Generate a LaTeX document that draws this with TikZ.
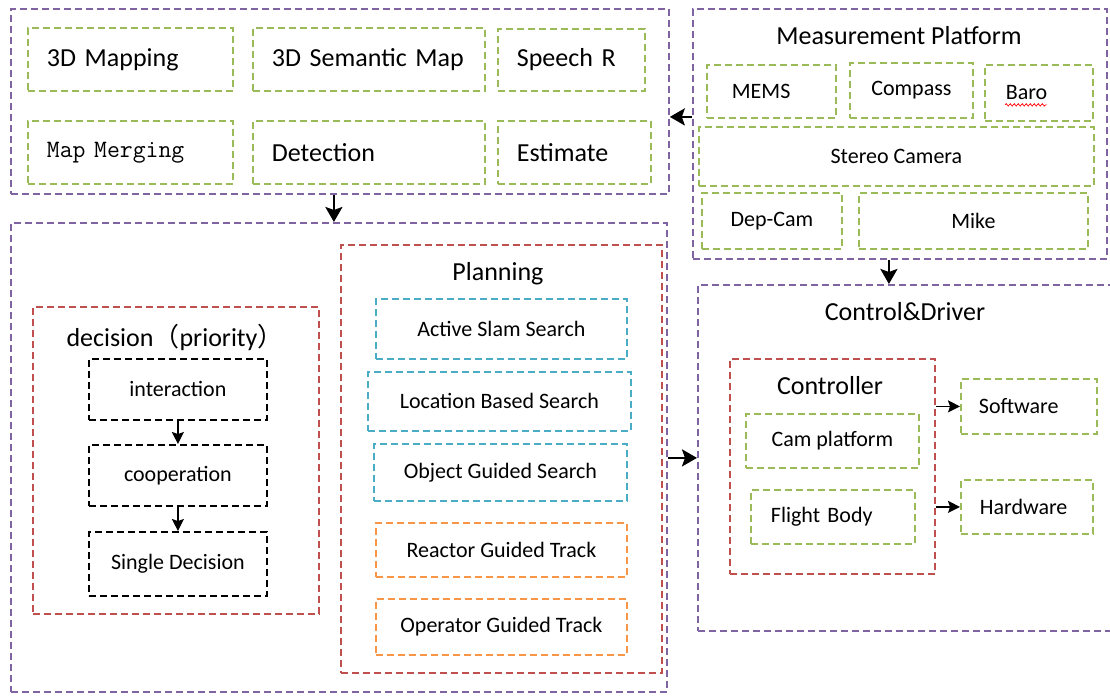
\documentclass[tikz,border=0pt]{standalone}
\usepackage{fontspec}
\setmainfont{Carlito}
\newfontfamily\cjk{Noto Sans CJK SC}
\usetikzlibrary{arrows.meta,positioning,decorations.pathmorphing}
\definecolor{grpviolet}{RGB}{128,100,162}
\definecolor{grpred}{RGB}{192,80,77}
\definecolor{grpgreen}{RGB}{155,187,89}
\definecolor{grpblue}{RGB}{75,172,198}
\definecolor{grporange}{RGB}{247,150,70}
\newcommand{\titlesize}{\fontsize{26}{30}\selectfont}
\newcommand{\itemsize}{\fontsize{22}{26}\selectfont}
\tikzstyle{line} = [draw, line width=2.6pt, -{Stealth[length=15pt,width=17pt,inset=3pt]}]
\tikzstyle{thinline} = [draw, line width=1.4pt, -{Stealth[length=12pt,width=12pt,inset=2pt]}]

\begin{document}
\begin{tikzpicture}[x=1pt,y=-1pt]
\tikzset{frame/.style={draw, dash pattern=on 7pt off 4pt, line width=1.8pt, inner sep=0pt, anchor=north west}}
\tikzset{group/.style={frame, draw=grpviolet}}
\tikzset{stage/.style={frame, draw=grpred}}
\tikzset{unit/.style={frame, draw=grpgreen, font=\itemsize}}
\tikzset{search/.style={frame, draw=grpblue, font=\itemsize}}
\tikzset{track/.style={frame, draw=grporange, font=\itemsize}}
\tikzset{choice/.style={frame, draw=black, font=\itemsize}}
\useasboundingbox (0,0) rectangle (1110,696);

% perception
\node [group, minimum width=658pt, minimum height=185pt] (p1) at (10,8) {};
\node [unit, font=\titlesize, minimum width=205pt, minimum height=63pt, text width=167pt, inner xsep=19pt, align=left] (map) at (27,27) {3D Mapping};
\node [unit, font=\titlesize, minimum width=232pt, minimum height=63pt, text width=194pt, inner xsep=19pt, align=left] (sem) at (252,27) {3D Semantic Map};
\node [unit, font=\titlesize, minimum width=147pt, minimum height=62pt, text width=109pt, inner xsep=19pt, align=left] (speech) at (497,28) {Speech R};
\node [unit, font=\titlesize, minimum width=205pt, minimum height=63pt, text width=167pt, inner xsep=19pt, align=left] (merge) at (27,120) {\fontsize{25}{30}\ttfamily Map Merging};
\node [unit, font=\titlesize, minimum width=232pt, minimum height=63pt, text width=194pt, inner xsep=19pt, align=left] (detect) at (252,120) {Detection};
\node [unit, font=\titlesize, minimum width=153pt, minimum height=63pt, text width=115pt, inner xsep=19pt, align=left] (estim) at (497,120) {Estimate};

% decision and planning
\node [group, minimum width=656pt, minimum height=469pt] (p2) at (10,222) {};
\node [stage, minimum width=286pt, minimum height=307pt] (dec) at (32,306) {};
\node [font=\titlesize] (tdec) at (175,337) {decision{\cjk （}priority{\cjk ）}};
\node [choice, minimum width=178pt, minimum height=61pt] (inter) at (88,358) {interaction};
\node [choice, minimum width=178pt, minimum height=61pt] (coop) at (88,444) {cooperation};
\node [choice, minimum width=178pt, minimum height=64pt] (single) at (88,531) {Single Decision};
\path [thinline] (inter.south) -- (coop.north);
\path [thinline] (coop.south) -- (single.north);

\node [stage, minimum width=321pt, minimum height=428pt] (plan) at (340,244) {};
\node [font=\titlesize] (tplan) at (498,274) {Planning};
\node [search, minimum width=251pt, minimum height=60pt] (act) at (375,298) {Active Slam Search};
\node [search, minimum width=263pt, minimum height=59pt] (loc) at (367,371) {Location Based Search};
\node [search, minimum width=253pt, minimum height=57pt] (obj) at (373,443) {Object Guided Search};
\node [track, minimum width=251pt, minimum height=54pt] (react) at (375,522) {Reactor Guided Track};
\node [track, minimum width=251pt, minimum height=56pt] (oper) at (375,598) {Operator Guided Track};

% sensors
\node [group, minimum width=414pt, minimum height=250pt] (p3) at (692,8) {};
\node [font=\titlesize] (tmeas) at (899,36) {Measurement Platform};
\node [unit, minimum width=129pt, minimum height=53pt, text width=79pt, inner xsep=25pt, align=left] (mems) at (706,64) {MEMS};
\node [unit, minimum width=123pt, minimum height=55pt] (compass) at (849,62) {Compass};
\node [unit, minimum width=108pt, minimum height=56pt, text width=66pt, inner xsep=21pt, align=left] (baro) at (984,64) {Baro};
\node [unit, minimum width=395pt, minimum height=59pt] (stereo) at (698,126) {Stereo Camera};
\node [unit, minimum width=140pt, minimum height=56pt] (depcam) at (701,192) {Dep-Cam};
\node [unit, minimum width=229pt, minimum height=56pt] (mike) at (858,192) {Mike};
\draw [red, line width=0.7pt, decorate, decoration={snake, amplitude=1.2pt, segment length=4pt}]
  ([xshift=21pt, yshift=-5pt]baro.base west) -- ++(42,0);

% actuation
\node [group, minimum width=415pt, minimum height=346pt] (p4) at (697,284) {};
\node [font=\titlesize] (tctl) at (905,312) {Control\&Driver};
\node [stage, minimum width=205pt, minimum height=215pt] (ctrl) at (729,358) {};
\node [font=\titlesize] (tctrl) at (830,386) {Controller};
\node [unit, minimum width=173pt, minimum height=54pt] (cam) at (745,413) {Cam platform};
\node [unit, minimum width=164pt, minimum height=54pt, text width=124pt, inner xsep=20pt, align=left] (flight) at (750,489) {Flight Body};
\node [unit, minimum width=136pt, minimum height=55pt, text width=100pt, inner xsep=18pt, align=left] (soft) at (960,378) {Software};
\node [unit, minimum width=132pt, minimum height=54pt, text width=94pt, inner xsep=19pt, align=left] (hard) at (960,479) {Hardware};
\path [thinline] (soft.west -| ctrl.east) -- (soft.west);
\path [thinline] (hard.west -| ctrl.east) -- (hard.west);

% data flow between groups
\path [line] ([yshift=17pt]p3.west) -- ([yshift=17pt]p3.west -| p1.east);
\path [line] ([xshift=-6pt]p1.south) -- ([xshift=-6pt]p1.south |- p2.north);
\path [line] ([xshift=-11pt]p3.south) -- ([xshift=-11pt]p3.south |- p4.north);
\path [line] (p4.west -| p2.east) -- (p4.west);
\end{tikzpicture}
\end{document}
